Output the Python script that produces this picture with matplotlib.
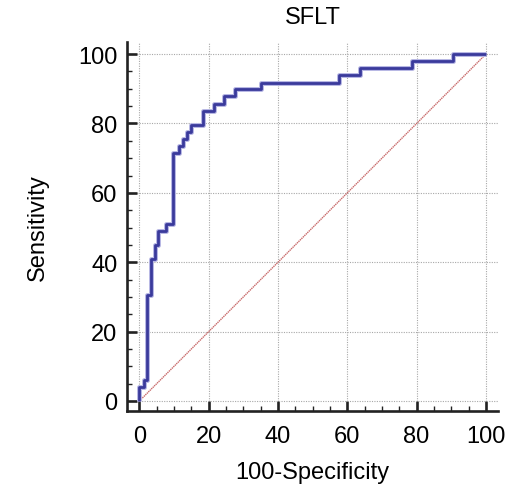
import matplotlib
matplotlib.use("Agg")
import matplotlib.pyplot as plt
from matplotlib.ticker import MultipleLocator

# ROC curve corner points (100-Specificity, Sensitivity)
fpr = [0, 0, 1.2, 2.3, 3.4, 4.5, 5.5, 7.6, 9.6, 11.5, 12.7, 13.7, 14.9,
       18.3, 21.4, 24.5, 27.6, 35.1, 57.7, 63.7, 78.8, 90.4, 100]
tpr = [0, 4.1, 6.1, 30.6, 40.8, 44.9, 49.0, 51.0, 71.4, 73.5, 75.5, 77.6, 79.6,
       83.7, 85.7, 87.8, 89.8, 91.8, 93.9, 95.9, 98.0, 100, 100]
diag = [0, 100]
ticks = [0, 20, 40, 60, 80, 100]
title = "SFLT"
xlabel = "100-Specificity"
ylabel = "Sensitivity"

plt.rcParams['font.family'] = ['Liberation Sans', 'DejaVu Sans']

fig = plt.figure(figsize=(5.14, 4.89), dpi=100)
ax = fig.add_axes([0.2477, 0.1575, 0.7212, 0.7546])

ax.set_xlim(-3.5, 103.5)
ax.set_ylim(-2.9, 103.5)

ax.grid(True, which='major', color='#a8a8a8', linestyle=(0, (1, 1.2)), linewidth=0.8)
ax.set_axisbelow(True)

ax.plot(diag, diag, color='#c86a6a', linewidth=1.0, linestyle=(0, (1, 0.5)), zorder=2)
ax.plot(fpr, tpr, drawstyle='steps-post', color='#b8b8e4', linewidth=3.6,
        solid_capstyle='butt', zorder=3)
ax.plot(fpr, tpr, drawstyle='steps-post', color='#3a3a9c', linewidth=2.0,
        solid_capstyle='butt', zorder=4)

for s in ['top', 'right']:
    ax.spines[s].set_visible(False)
for s in ['left', 'bottom']:
    ax.spines[s].set_linewidth(1.9)
    ax.spines[s].set_color('#222222')

ax.set_xticks(ticks)
ax.set_yticks(ticks)
ax.xaxis.set_minor_locator(MultipleLocator(5))
ax.yaxis.set_minor_locator(MultipleLocator(5))
ax.tick_params(which='major', direction='in', length=7, width=1.9, color='#222222',
               labelsize=17)
ax.tick_params(which='minor', direction='in', length=3.5, width=1.0, color='#222222')
ax.tick_params(axis='x', which='major', pad=10)
ax.tick_params(axis='y', which='major', pad=7)

ax.set_title(title, fontsize=17, pad=14)
ax.set_xlabel(xlabel, fontsize=17, labelpad=10)
ax.set_ylabel(ylabel, fontsize=17, labelpad=21)

fig.savefig("out.png", dpi=100)
